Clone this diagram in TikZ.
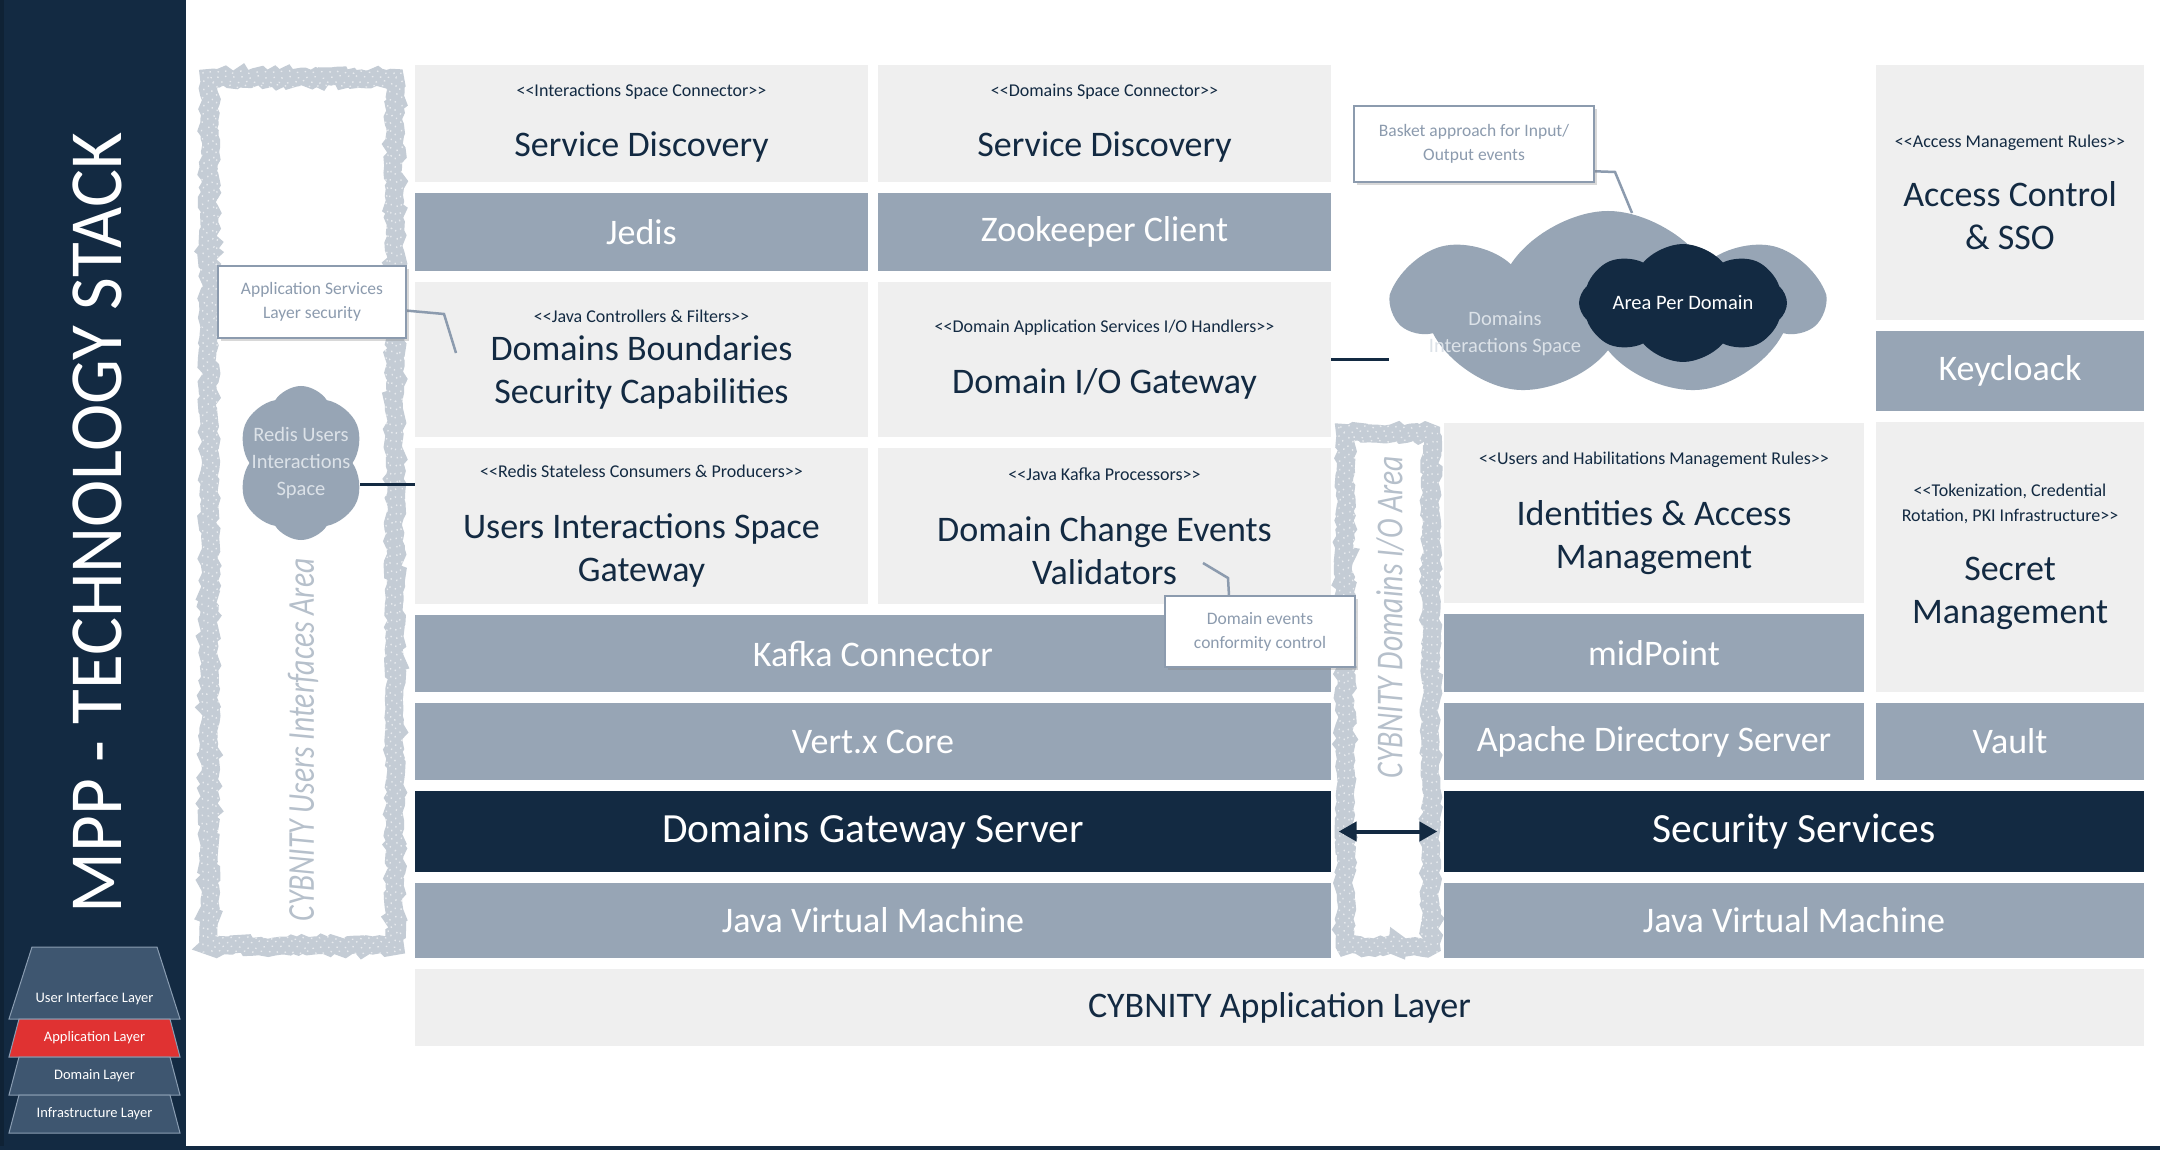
\documentclass[tikz,border=0pt]{standalone}
\usepackage{fontspec}
\setmainfont{Carlito}
\usetikzlibrary{arrows}
\usetikzlibrary{positioning}
\usetikzlibrary{shapes}
\usetikzlibrary{calc}
\usetikzlibrary{shadows}
\usetikzlibrary{decorations.pathmorphing}

\definecolor{navy}{HTML}{132A42}
\definecolor{slate}{HTML}{97A5B5}
\definecolor{lightbox}{HTML}{EFEFEF}
\definecolor{roughc}{HTML}{C4CCD5}
\definecolor{areatxt}{HTML}{B6C0CB}
\definecolor{notec}{HTML}{8C9BAE}
\definecolor{cloudtxt}{HTML}{DCE2E8}
\definecolor{layerc}{HTML}{3E5670}
\definecolor{layerline}{HTML}{8A9DB2}
\definecolor{layerred}{HTML}{E03232}

\newcommand{\stl}{<\kern0pt<}
\newcommand{\stg}{>\kern0pt>}
\newcommand{\stsize}{\fontsize{18}{24}\selectfont}
\newcommand{\stereo}[1]{{\stsize\stl#1\stg}}

\tikzstyle{lite}=[rectangle, fill=lightbox, text=navy, align=center, inner sep=0pt, outer sep=0pt, font=\fontsize{36}{43}\selectfont]
\tikzstyle{tech}=[rectangle, fill=slate, text=white, inner sep=0pt, outer sep=0pt, font=\fontsize{36}{43}\selectfont]
\tikzstyle{server}=[rectangle, fill=navy, text=white, inner sep=0pt, outer sep=0pt, font=\fontsize{41.5}{46}\selectfont]
\tikzstyle{col}=[minimum width=453pt]
\tikzstyle{wide}=[minimum width=916pt]
\tikzstyle{iamcol}=[minimum width=420pt]
\tikzstyle{ssocol}=[minimum width=268pt]
\tikzstyle{note}=[rectangle, draw=notec, line width=2.5pt, fill=white, text=notec, align=center, inner sep=0pt, drop shadow={opacity=0.3, shadow xshift=3pt, shadow yshift=-3pt}, font=\fontsize{17.5}{24}\selectfont]
\tikzstyle{area}=[draw=roughc, line width=18pt, decorate, decoration={random steps, segment length=5pt, amplitude=2.5pt}]
\tikzstyle{speck}=[draw=white, line width=1.3pt, opacity=0.6, dash pattern=on 1.5pt off 7pt, decorate, decoration={random steps, segment length=4pt, amplitude=1.5pt}]
\tikzstyle{areatext}=[rotate=90, text=areatxt, font=\fontsize{38}{40}\selectfont\itshape]
\tikzstyle{puff}=[cloud, cloud puffs=8, cloud puff arc=100, aspect=2.2, inner sep=0pt]
\tikzstyle{puffname}=[align=center, text=cloudtxt, font=\fontsize{20.5}{27}\selectfont]
\tikzstyle{layer}=[fill=layerc, draw=layerline, line width=1pt]
\tikzstyle{layertext}=[text=white, inner sep=0pt, font=\fontsize{14.5}{16}\selectfont]
\tikzstyle{link}=[draw=navy, line width=3pt]
\tikzstyle{pointer}=[draw=notec, line width=2.5pt]

\begin{document}
\begin{tikzpicture}[x=1pt, y=-1pt, >=triangle 60]
    \useasboundingbox (0,0) rectangle (2160,1150);
    \fill[white] (0,0) rectangle (2160,1150);

    % side band
    \fill[navy] (0,0) rectangle (186,1150);
    \fill[navy!80!black] (0,0) rectangle (4,1150);
    \fill[navy] (0,1146) rectangle (2160,1150);
    \node[rotate=90, text=white, font=\fontsize{75}{80}\selectfont] (title) at (97,523) {\scalebox{0.95}[1]{MPP - TECHNOLOGY STACK}};

    % layers
    \filldraw[layer] (32,947) -- (157,947) -- (180,1019) -- (9,1019) -- cycle;
    \filldraw[layer, fill=layerred] (19,1019) -- (170,1019) -- (180,1057) -- (9,1057) -- cycle;
    \filldraw[layer] (19,1057) -- (170,1057) -- (180,1095) -- (9,1095) -- cycle;
    \filldraw[layer] (19,1095) -- (170,1095) -- (180,1133) -- (9,1133) -- cycle;
    \node[layertext] (uil) at (94.5,999) {User Interface Layer};
    \node[layertext] (apl) at (94.5,1038) {Application Layer};
    \node[layertext] (dol) at (94.5,1076) {Domain Layer};
    \node[layertext] (inl) at (94.5,1114) {Infrastructure Layer};

    % areas
    \pgfmathsetseed{7}
    \draw[area] (209,78) rectangle (395,946);
    \draw[area] (1345,433) rectangle (1431,946);
    \foreach \d in {-6,-1,4,8} {
        \draw[speck] (209+\d,78+\d) rectangle (395-\d,946-\d);
        \draw[speck] (1345+\d,433+\d) rectangle (1431-\d,946-\d);
    }
    \node[areatext] (uiarea) at (303,740) {\scalebox{0.78}[1]{CYBNITY Users Interfaces Area}};
    \node[areatext] (ioarea) at (1390,617) {\scalebox{0.78}[1]{CYBNITY Domains I/O Area}};

    % gateway stack
    \node[lite, col, minimum height=117pt, anchor=north west] (isd) at (415,65) {\stereo{Interactions Space Connector}\\[17pt]Service Discovery};
    \node[lite, col, minimum height=117pt, right=10pt of isd] (dsd) {\stereo{Domains Space Connector}\\[17pt]Service Discovery};
    \node[tech, col, minimum height=78pt, below=11pt of isd] (jedis) {Jedis};
    \node[tech, col, minimum height=78pt, below=11pt of dsd] (zkc) {Zookeeper Client};
    \node[lite, col, minimum height=155pt, below=11pt of jedis] (dbsc) {\stereo{Java Controllers \& Filters}\\[-5pt]Domains Boundaries\\Security Capabilities};
    \node[lite, col, minimum height=155pt, below=11pt of zkc] (gio) {\stereo{Domain Application Services I/O Handlers}\\[18pt]Domain I/O Gateway};
    \node[lite, col, minimum height=156pt, below=11pt of dbsc] (uisg) {\stereo{Redis Stateless Consumers \& Producers}\\[18pt]Users Interactions Space\\Gateway};
    \node[lite, col, minimum height=156pt, below=11pt of gio] (dcev) {\stereo{Java Kafka Processors}\\[18pt]Domain Change Events\\Validators};
    \node[tech, wide, minimum height=77pt, below right=11pt and 0pt of uisg.south west] (kafka) {Kafka Connector};
    \node[tech, wide, minimum height=77pt, below=11pt of kafka] (vertx) {Vert.x Core};
    \node[server, wide, minimum height=81pt, below=11pt of vertx] (dgs) {Domains Gateway Server};
    \node[tech, wide, minimum height=75pt, below=11pt of dgs] (jvma) {Java Virtual Machine};
    \node[lite, minimum width=1729pt, minimum height=77pt, below right=11pt and 0pt of jvma.south west] (cal) {CYBNITY Application Layer};

    % security stack
    \node[lite, iamcol, minimum height=180pt, anchor=north west] (iam) at (1444,423) {\stereo{Users and Habilitations Management Rules}\\[18pt]Identities \& Access\\Management};
    \node[tech, iamcol, minimum height=78pt, below=11pt of iam] (midp) {midPoint};
    \node[tech, iamcol, minimum height=77pt, below=11pt of midp] (apds) {Apache Directory Server};
    \node[lite, ssocol, minimum height=255pt, anchor=north west] (acs) at (1876,65) {\stereo{Access Management Rules}\\[16pt]Access Control\\\& SSO};
    \node[tech, ssocol, minimum height=80pt, below=11pt of acs] (kcl) {Keycloack};
    \node[lite, ssocol, minimum height=270pt, below=11pt of kcl] (secm) {{\stsize\stl Tokenization, Credential}\\[-18pt]{\stsize Rotation, PKI Infrastructure\stg}\\[16pt]Secret\\Management};
    \node[tech, ssocol, minimum height=77pt, below=11pt of secm] (vault) {Vault};
    \node[server, minimum width=700pt, minimum height=81pt, below right=11pt and 0pt of apds.south west] (secs) {Security Services};
    \node[tech, minimum width=700pt, minimum height=75pt, below=11pt of secs] (jvmb) {Java Virtual Machine};

    % clouds
    \node[puff, fill=slate, cloud puffs=7, cloud puff arc=115, minimum width=425pt, minimum height=188pt] (dis) at (1608,305) {};
    \node[puff, fill=navy, minimum width=208pt, minimum height=118pt] (apd) at (1683,303) {};
    \node[puffname] (distxt) at (1505,334) {Domains\\Interactions Space};
    \node[puffname, text=white] (apdtxt) at (apd) {Area Per Domain};
    \node[puff, fill=slate, cloud puffs=6, cloud puff arc=115, aspect=1, minimum width=129pt, minimum height=154pt] (redis) at (301,463) {};
    \node[puffname] (redistxt) at (redis) {Redis Users\\Interactions\\Space};

    % connectors
    \draw[link] (gio.east) -- (gio.east -| dis.west);
    \draw[link] (redis.-20) -- (redis.-20 -| uisg.west);
    \draw[link, <->, line width=4pt, shorten <=8pt, shorten >=7pt] (dgs.east) -- (secs.west);
    \coordinate (appbend) at (444,314);
    \coordinate (append) at (456,353);
    \draw[pointer] (312,302) -- (appbend) -- (append);
    \coordinate (basbend) at (1615,172);
    \coordinate (basend) at (1632,213);
    \draw[pointer] (1474,167) -- (basbend) -- (basend);
    \coordinate (devbend) at (1228,578);
    \coordinate (devend) at (1203,563);
    \draw[pointer] (1231,631) -- (devbend) -- (devend);

    % notes
    \node[note, minimum width=188pt, minimum height=72pt] (appsec) at (312,302) {Application Services\\Layer security};
    \node[note, minimum width=240pt, minimum height=76pt] (basket) at (1474,144) {Basket approach for Input/\\Output events};
    \node[note, minimum width=190pt, minimum height=71pt] (devt) at (1260,631.5) {Domain events\\conformity control};
\end{tikzpicture}
\end{document}
